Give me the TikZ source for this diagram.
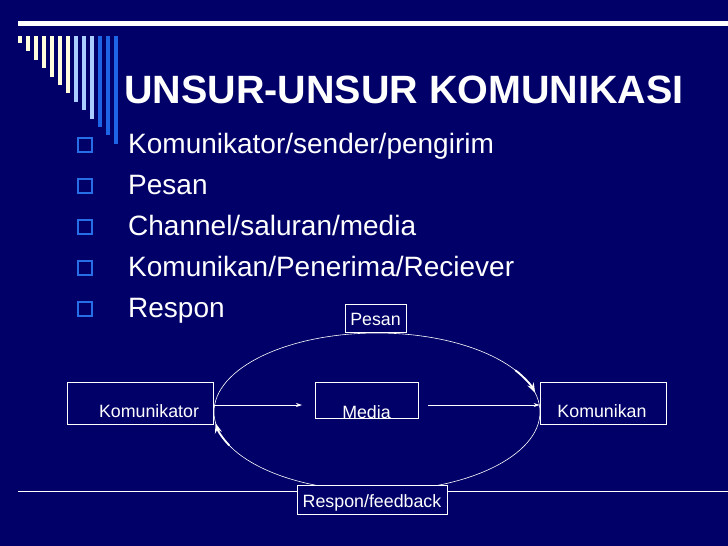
\documentclass[tikz,border=0pt]{standalone}
\usepackage{fontspec}
\setmainfont{Liberation Sans}
\usetikzlibrary{arrows.meta}
\definecolor{bg}{RGB}{0,0,104}
\definecolor{cream}{RGB}{255,252,220}
\definecolor{lblue}{RGB}{170,205,255}
\definecolor{mblue}{RGB}{30,100,230}
\definecolor{bul}{RGB}{40,110,230}
\tikzset{
  box/.style={draw=white,line width=0.8pt,inner sep=0pt},
  lt/.style={text=white,font=\fontsize{17.8}{21}\selectfont,inner sep=0pt,anchor=base},
  item/.style={anchor=base west,text=white,font=\fontsize{28}{30}\selectfont,inner sep=0pt},
  bulsq/.style={draw=bul,line width=2pt,minimum size=14pt,inner sep=0pt},
  conn/.style={white,line width=0.7pt,-{Stealth[length=6pt,width=4pt]}},
  ecarrow/.style={white,line width=1.8pt,-{Stealth[length=10pt,width=7pt]}}
}
\begin{document}
\begin{tikzpicture}[x=1pt,y=-1pt]
\fill[bg] (0,0) rectangle (728,546);
\useasboundingbox (0,0) rectangle (728,546);
\fill[white] (18,21) rectangle (728,26);
\foreach \i/\c in {0/cream,1/cream,2/cream,3/cream,4/cream,5/cream,6/cream,7/lblue,8/lblue,9/lblue,10/mblue,11/mblue,12/mblue}{
  \fill[\c] ({18+8*\i},36) rectangle ({21.5+8*\i},{43+8.4*\i});
}
\node[anchor=base west,text=white,font=\fontsize{39.5}{42}\selectfont\bfseries,inner sep=0pt] (title) at (124,103) {UNSUR-UNSUR KOMUNIKASI};
\foreach \t [count=\k] in {Komunikator/sender/pengirim,Pesan,Channel/saluran/media,Komunikan/Penerima/Reciever,Respon}{
  \node[bulsq] (b\k) at (85,{145+41*(\k-1)}) {};
  \node[item] (t\k) at (128,{153+41*(\k-1)}) {\t};
}
\draw[white,line width=0.8pt] (18,491) -- (728,491);
\node[box,minimum width=146pt,minimum height=42pt] (kom) at (140,403) {};
\node[lt] (komt) at (149,417) {Komunikator};
\node[box,minimum width=103pt,minimum height=36pt] (med) at (366.5,400) {};
\node[lt] (medt) at (366.5,418) {Media};
\node[box,minimum width=126pt,minimum height=42pt] (kmn) at (603,403) {};
\node[lt] (kmnt) at (602,417) {Komunikan};
\node[box,minimum width=61pt,minimum height=28pt,fill=bg] (pes) at (375.5,318) {};
\node[lt] (pest) at (375.5,325) {Pesan};
\draw[white,line width=0.6pt] (377,412) ellipse [x radius=163,y radius=79];
\node[box,minimum width=150pt,minimum height=29pt,fill=bg] (res) at (372,500) {};
\node[lt] (rest) at (372,507) {Respon/feedback};
\draw[conn] (kom.east |- 0,405) -- (302,405);
\draw[conn] (428,405) -- (kmn.west |- 0,405);
\draw[ecarrow] (377,412) ++(-32:163 and 79) arc[start angle=-32,end angle=-14,x radius=163,y radius=79];
\draw[ecarrow] (377,412) ++(155:163 and 79) arc[start angle=155,end angle=172,x radius=163,y radius=79];
\end{tikzpicture}
\end{document}
